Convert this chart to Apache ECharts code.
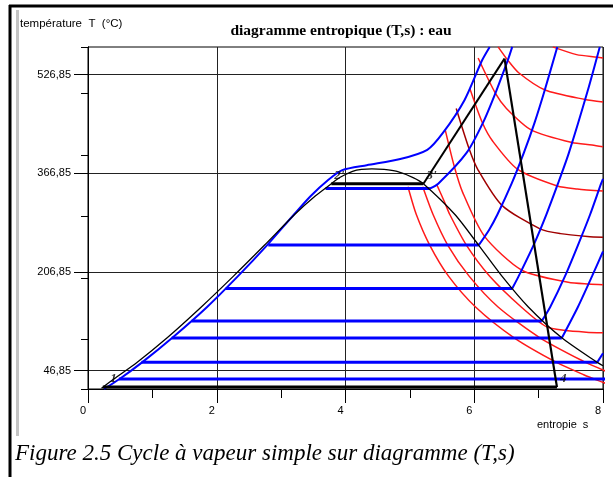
<!DOCTYPE html>
<html>
<head>
<meta charset="utf-8">
<script src="https://cdn.jsdelivr.net/npm/echarts@6/dist/echarts.min.js"></script>
<style>
  html, body { margin: 0; padding: 0; background: #fff; }
  #chart { width: 613px; height: 477px; }
</style>
</head>
<body>
<div id="chart"></div>
<script>
// Axis ranges and tick positions (T in °C, s in kJ/kg·K)
const T_MIN = 16.85, T_MAX = 571.85;
const S_MIN = 0, S_MAX = 8;
const yLabelValues = [46.85, 206.85, 366.85, 526.85];
const yMinorTicks = [16.85, 96.85, 196.85, 296.85, 396.85, 496.85, 571.85];

// Saturation dome: liquid branch then vapour branch, [s, T]
const satLiquid = [[0.21,18],[0.40,33],[0.76,60],[1.23,100],[1.76,150],[2.26,200],[2.74,250],[3.21,300],[3.53,330],[3.78,350],[3.91,360],[4.11,370],[4.25,373.2],[4.41,373.95]];
const satVapor = [[4.41,373.95],[4.6,373.2],[4.80,370],[5.05,360],[5.21,350],[5.70,300],[6.07,250],[6.43,200],[6.84,150],[7.36,100],[7.91,60],[8.0,54.5]];

// Isobars inside the dome: [T, s liquid, s vapour]
const isobarPlateaus = [
  [32.9, 0.48, 8.40],
  [60.06, 0.83, 7.91],
  [99.6, 1.30, 7.36],
  [127.4, 1.61, 7.05],
  [179.9, 2.14, 6.59],
  [250.4, 2.80, 6.07],
  [342.2, 3.69, 5.31]
];
// Isobars in superheated vapour, [s, T]
const isobar150 = [[5.31,342.2],[5.44,350],[5.88,400],[6.14,450],[6.34,500],[6.52,550],[6.59,572]];
const isobar40 = [[6.07,250.4],[6.23,275],[6.36,300],[6.58,350],[6.77,400],[6.94,450],[7.09,500],[7.29,572]];
const isobar10 = [[6.59,179.9],[6.69,200],[6.92,250],[7.12,300],[7.30,350],[7.47,400],[7.76,500],[7.95,572]];
const isobar2_5 = [[7.05,127.4],[7.18,150],[7.41,200],[7.61,250],[7.80,300],[7.97,350],[8.0,358]];
const isobar1 = [[7.36,99.6],[7.61,150],[7.83,200],[8.0,240]];
const isobar0_2 = [[7.91,60.06],[8.0,75]];
// Supercritical isobar, running up the liquid side
const isobar250 = [[0.25,16.85],[0.49,33],[0.84,60],[1.31,100],[1.85,150],[2.33,200],[2.78,250],[3.20,300],[3.46,330],[3.73,356],[3.95,372],[4.33,380],[4.85,390],[5.27,405],[5.51,432],[5.85,486],[6.12,550],[6.24,572]];

// Isenthalps (h in kJ/kg), [s, T]
const h2400 = [[4.97,345],[5.10,300],[5.31,250],[5.60,200],[6.02,150],[6.62,100],[7.28,60],[7.70,40],[7.94,30],[8.2,20]];
const h2550 = [[5.20,345],[5.36,300],[5.59,250],[5.92,200],[6.37,150],[7.02,100],[7.73,60],[7.95,50],[8.06,45]];
const h2700 = [[5.42,348],[5.54,320],[5.62,300],[5.88,250],[6.24,200],[6.73,150],[7.12,118],[7.40,112],[7.74,109],[8.0,108]];
const h2850 = [[5.55,437],[5.69,378],[5.82,336],[6.16,264.5],[6.74,209.6],[7.46,190],[7.78,187.2],[8.0,186.2]];
const h3000 = [[5.72,472],[5.92,406.7],[6.06,372.2],[6.43,314.9],[7.03,276.4],[7.34,269],[7.76,264.4],[8.0,263]];
const h3150 = [[5.93,505],[6.13,448],[6.29,418.5],[6.67,373.7],[7.29,346.4],[7.60,341.5],[8.0,338]];
const h3300 = [[6.06,554],[6.33,496.5],[6.50,472.2],[6.89,437],[7.52,416.8],[7.83,413],[8.0,410]];
const h3450 = [[6.37,572],[6.52,550.5],[6.69,530],[7.10,502],[7.72,486.7],[8.0,482.5]];
const h3600 = [[7.22,572],[7.59,559.5],[7.91,555.4],[8.0,554]];

// Rankine cycle with superheat: state points [s, T]
const cyclePts = {
  p1: [0.30, 20],
  p2b: [3.78, 350],
  p3b: [5.21, 350],
  p3: [6.47, 553],
  p4: [7.285, 20]
};
const cycleLabels = ['1', "2'", "3'", '4'];

const chart = echarts.init(document.getElementById('chart'), null, { renderer: 'canvas' });

const seriesList = [];
function line(name, data, color, width, z, smooth) {
  seriesList.push({
    name, type: 'line', data, showSymbol: false, symbol: 'none',
    smooth: smooth ? 0.25 : false, clip: true, silent: true,
    lineStyle: { color, width }, z, animation: false
  });
}

const RED = '#ff1a1a', DARKRED = '#a00000', BLUE = '#0000ff', BLACK = '#000';

[h2400, h2550, h2700, h2850, h3150, h3300, h3450, h3600].forEach((d, i) => line('h' + i, d, RED, 1.5, 2, true));
line('h3000', h3000, DARKRED, 1.5, 2, true);

isobarPlateaus.forEach((p, i) => line('plateau' + i, [[p[1], p[0]], [p[2], p[0]]], BLUE, 3, 3, false));
[isobar150, isobar40, isobar10, isobar2_5, isobar1, isobar0_2].forEach((d, i) => line('sup' + i, d, BLUE, 2, 3, true));
line('p250', isobar250, BLUE, 2, 3, true);

line('dome', satLiquid.concat(satVapor.slice(1)), BLACK, 1.3, 4, true);

// cycle segments
line('c41', [cyclePts.p4, [0.23, 20]], BLACK, 3, 5, false);
line('c23', [cyclePts.p2b, cyclePts.p3b], BLACK, 3, 5, false);
line('c33', [cyclePts.p3b, cyclePts.p3], BLACK, 2, 5, false);
line('c34', [cyclePts.p3, cyclePts.p4], BLACK, 2.2, 5, false);

seriesList.push({
  type: 'scatter', symbolSize: 0, z: 6, silent: true, animation: false,
  data: [cyclePts.p1, cyclePts.p2b, cyclePts.p3b, cyclePts.p4].map((v, i) => ({ value: v, name: cycleLabels[i] })),
  label: {
    show: true, position: 'right', distance: 3, offset: [0, -8],
    formatter: p => p.name,
    fontFamily: 'Liberation Serif', fontStyle: 'italic', fontWeight: 'bold', fontSize: 13, color: '#000'
  }
});

const fmt = v => Number(v).toFixed(2).replace('.', ',');

chart.setOption({
  animation: false,
  grid: { left: 88, right: 10, top: 47, bottom: 88, show: true, borderColor: '#000', borderWidth: 1, backgroundColor: 'transparent' },
  xAxis: {
    type: 'value', min: S_MIN, max: S_MAX, interval: 2,
    axisLine: { show: true, onZero: false, lineStyle: { color: '#000', width: 1 } },
    axisTick: { show: true, length: 14, lineStyle: { color: '#000' } },
    minorTick: { show: true, splitNumber: 2, length: 9, lineStyle: { color: '#000' } },
    splitLine: { show: true, lineStyle: { color: '#222', width: 1 } },
    axisLabel: { color: '#000', fontSize: 11, fontFamily: 'Liberation Sans', margin: 16, padding: [0, 10, 0, 0] }
  },
  yAxis: [{
    type: 'value', min: T_MIN, max: T_MAX,
    axisLine: { show: true, onZero: false, lineStyle: { color: '#000', width: 1 } },
    axisTick: { show: true, length: 14, customValues: yLabelValues, lineStyle: { color: '#000' } },
    splitLine: { show: true, lineStyle: { color: '#222', width: 1 } },
    axisLabel: { color: '#000', fontSize: 11, fontFamily: 'Liberation Sans', margin: 17, customValues: yLabelValues, formatter: fmt }
  }, {
    type: 'value', min: T_MIN, max: T_MAX, position: 'left',
    axisLine: { show: true, onZero: false, lineStyle: { color: '#000', width: 1 } },
    axisTick: { show: true, length: 7, customValues: yMinorTicks, lineStyle: { color: '#000' } },
    splitLine: { show: false },
    axisLabel: { show: false }
  }],
  graphic: [
    { type: 'line', shape: { x1: 9, y1: 6, x2: 613, y2: 6 }, style: { stroke: '#000', lineWidth: 3 } },
    { type: 'line', shape: { x1: 10, y1: 5, x2: 10, y2: 477 }, style: { stroke: '#000', lineWidth: 3 } },
    { type: 'line', shape: { x1: 17.5, y1: 10, x2: 17.5, y2: 436 }, style: { stroke: '#c4c4c4', lineWidth: 3 } },
    { type: 'text', left: 20, top: 18, style: { text: 'température  T  (°C)', font: '11.5px "Liberation Sans"', fill: '#000' } },
    { type: 'text', x: 341, y: 31, style: { text: 'diagramme entropique (T,s) : eau', font: 'bold 15.5px "Liberation Serif"', fill: '#000', align: 'center', verticalAlign: 'middle' } },
    { type: 'text', left: 537, top: 419, style: { text: 'entropie  s', font: '11px "Liberation Sans"', fill: '#000' } },
    { type: 'text', left: 15, top: 442, style: { text: 'Figure 2.5 Cycle à vapeur simple sur diagramme (T,s)', font: 'italic 23px "Liberation Serif"', fill: '#000' } }
  ],
  series: seriesList
});
</script>
</body>
</html>
